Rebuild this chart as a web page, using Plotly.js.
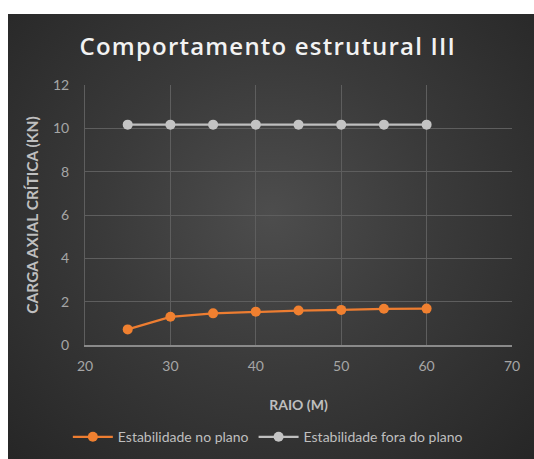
<!DOCTYPE html>
<html>
<head>
<meta charset="utf-8">
<script src="https://cdn.plot.ly/plotly-3.0.1.min.js"></script>
<style>
  html, body { margin: 0; padding: 0; background: #ffffff; }
  #wrap {
    position: absolute; left: 8px; top: 14px; width: 526px; height: 445px;
    background: radial-gradient(ellipse at 50% 45%, #4d4d4d 0%, #3a3a3a 45%, #262626 100%);
  }
  #chart { width: 526px; height: 445px; }
  .gtitle { letter-spacing: 1.2px; }
</style>
</head>
<body>
<div id="wrap"><div id="chart"></div></div>
<script>
const raio = [25, 30, 35, 40, 45, 50, 55, 60];
const noPlano = [0.72, 1.30, 1.46, 1.54, 1.59, 1.62, 1.67, 1.68];
const foraPlano = [10.17, 10.17, 10.17, 10.17, 10.17, 10.17, 10.17, 10.17];
const xTicks = [20, 30, 40, 50, 60, 70];
const yTicks = [0, 2, 4, 6, 8, 10, 12];

const fontFam = 'Lato, "Open Sans", sans-serif';

const traces = [
  {
    x: raio, y: noPlano, name: 'Estabilidade no plano',
    type: 'scatter', mode: 'lines+markers',
    line: { color: '#ED7D31', width: 2.25 },
    marker: { color: '#F08030', size: 10 }
  },
  {
    x: raio, y: foraPlano, name: 'Estabilidade fora do plano',
    type: 'scatter', mode: 'lines+markers',
    line: { color: '#BFBFBF', width: 2.25 },
    marker: { color: '#C4C4C4', size: 10 }
  }
];

const layout = {
  width: 526, height: 445,
  paper_bgcolor: 'rgba(0,0,0,0)',
  plot_bgcolor: 'rgba(0,0,0,0)',
  margin: { l: 77, r: 22, t: 71, b: 114 },
  font: { family: fontFam, color: '#A6A6A6', size: 14 },
  title: {
    text: 'Comportamento estrutural III',
    font: { family: '"Open Sans", sans-serif', size: 24, color: '#F2F2F2', weight: 600 },
    x: 0.494, xanchor: 'center', xref: 'container',
    y: 0.926, yanchor: 'middle', yref: 'container'
  },
  xaxis: {
    range: [20, 70], tickvals: xTicks, ticktext: xTicks.map(String),
    showgrid: true, gridcolor: '#5E5E5E', gridwidth: 1,
    showline: true, linecolor: '#8A8A8A', linewidth: 1.5,
    zeroline: false, ticks: '', ticklabelstandoff: 8,
    tickfont: { size: 14, color: '#A6A6A6', family: fontFam },
    title: { text: '<b>RAIO (M)</b>', font: { size: 14, color: '#BFBFBF', family: fontFam }, standoff: 27 }
  },
  yaxis: {
    range: [0, 12], tickvals: yTicks, ticktext: yTicks.map(String),
    showgrid: true, gridcolor: '#5E5E5E', gridwidth: 1,
    showline: true, linecolor: '#5E5E5E', linewidth: 1,
    zeroline: false, ticks: '', ticklabelstandoff: 12,
    tickfont: { size: 14, color: '#A6A6A6', family: fontFam },
    title: { text: '<b>CARGA AXIAL CRÍTICA (KN)</b>', font: { size: 15.5, color: '#BFBFBF', family: fontFam }, standoff: 10 }
  },
  showlegend: true,
  legend: {
    orientation: 'h', xref: 'container', yref: 'container',
    x: 0.494, xanchor: 'center', y: 0.049, yanchor: 'middle',
    font: { size: 14, color: '#BFBFBF', family: fontFam },
    bgcolor: 'rgba(0,0,0,0)', itemwidth: 40, tracegroupgap: 0
  }
};

Plotly.newPlot('chart', traces, layout, { displayModeBar: false, staticPlot: true });
</script>
</body>
</html>
